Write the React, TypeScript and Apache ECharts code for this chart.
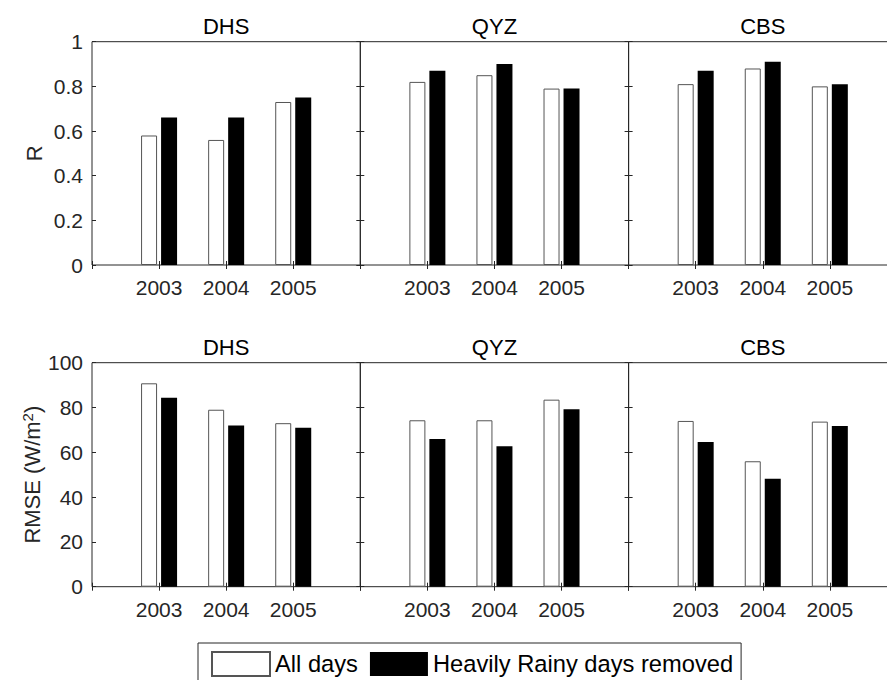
import React, { useEffect, useRef } from 'react';
import * as echarts from 'echarts';

const years = ['2003', '2004', '2005'];
const stations = ['DHS', 'QYZ', 'CBS'];
const seriesNames = ['All days', 'Heavily Rainy days removed'];

const rAllDHS = [0.58, 0.56, 0.73];
const rRemovedDHS = [0.66, 0.66, 0.75];
const rAllQYZ = [0.82, 0.85, 0.79];
const rRemovedQYZ = [0.87, 0.9, 0.79];
const rAllCBS = [0.81, 0.88, 0.8];
const rRemovedCBS = [0.87, 0.91, 0.81];

const rmseAllDHS = [90.8, 79, 73];
const rmseRemovedDHS = [84.4, 72, 71];
const rmseAllQYZ = [74.3, 74.3, 83.5];
const rmseRemovedQYZ = [65.9, 62.7, 79.2];
const rmseAllCBS = [74, 56, 73.7];
const rmseRemovedCBS = [64.6, 48.2, 71.7];

const FONT = '"Liberation Sans", Arial, Helvetica, sans-serif';
const TXT = '#262626';

export default function App() {
  const ref = useRef<HTMLDivElement>(null);

  useEffect(() => {
    if (!ref.current) return;
    const chart = echarts.init(ref.current, undefined, { renderer: 'svg' });

    const rows = [
      { all: [rAllDHS, rAllQYZ, rAllCBS], rem: [rRemovedDHS, rRemovedQYZ, rRemovedCBS], max: 1, interval: 0.2 },
      { all: [rmseAllDHS, rmseAllQYZ, rmseAllCBS], rem: [rmseRemovedDHS, rmseRemovedQYZ, rmseRemovedCBS], max: 100, interval: 20 },
    ];
    const L = [92, 360.3, 628.6];
    const W = 268.3;
    const T = [41.7, 362.7];
    const H = [223.3, 224];
    const titleY = [26.5, 347];

    const grids: any[] = [];
    const xAxes: any[] = [];
    const yAxes: any[] = [];
    const series: any[] = [];
    const graphics: any[] = [];
    const cats = ['', ...years, ''];

    rows.forEach((row, r) => {
      stations.forEach((st, c) => {
        const i = r * 3 + c;
        grids.push({
          left: L[c], top: T[r], width: W, height: H[r],
          show: true, borderColor: TXT, borderWidth: 1, backgroundColor: 'transparent',
        });
        const xBase = {
          type: 'category', gridIndex: i, data: cats, boundaryGap: false,
          axisLine: { show: false },
          axisTick: { show: true, inside: true, length: 4, interval: 0, lineStyle: { color: TXT } },
          splitLine: { show: false },
        };
        xAxes.push({
          ...xBase, position: 'bottom',
          axisLabel: { interval: 0, margin: 12, fontSize: 21, color: TXT, fontFamily: FONT },
        });
        xAxes.push({ ...xBase, position: 'top', axisLabel: { show: false } });
        const yBase = {
          type: 'value', gridIndex: i, min: 0, max: row.max, interval: row.interval,
          axisLine: { show: false },
          axisTick: { show: true, inside: true, length: 4, lineStyle: { color: TXT } },
          splitLine: { show: false },
        };
        yAxes.push({
          ...yBase, position: 'left',
          axisLabel: { show: c === 0, margin: 9, fontSize: 21, color: TXT, fontFamily: FONT },
        });
        yAxes.push({ ...yBase, position: 'right', axisLabel: { show: false } });

        series.push({
          type: 'bar', name: seriesNames[0], xAxisIndex: 2 * i, yAxisIndex: 2 * i,
          data: [null, ...row.all[c], null], barWidth: 16, barGap: '25%',
          itemStyle: { color: '#ffffff', borderColor: '#555555', borderWidth: 1 },
        });
        series.push({
          type: 'bar', name: seriesNames[1], xAxisIndex: 2 * i, yAxisIndex: 2 * i,
          data: [null, ...row.rem[c], null], barWidth: 16, barGap: '25%',
          itemStyle: { color: '#000000', borderColor: '#000000', borderWidth: 0 },
        });

        graphics.push({
          type: 'text', x: L[c] + W / 2, y: titleY[r],
          style: { text: st, align: 'center', verticalAlign: 'middle', fontSize: 22, fill: '#000', fontFamily: FONT },
        });
      });
    });

    graphics.push({
      type: 'text', x: 34, y: T[0] + H[0] / 2, rotation: Math.PI / 2,
      style: { text: 'R', align: 'center', verticalAlign: 'middle', fontSize: 22, fill: TXT, fontFamily: FONT },
    });
    graphics.push({
      type: 'text', x: 32, y: T[1] + H[1] / 2, rotation: Math.PI / 2,
      style: {
        text: 'RMSE (W/m{sup|2})', align: 'center', verticalAlign: 'middle', fontSize: 22, fill: TXT, fontFamily: FONT,
        rich: { sup: { fontSize: 15, fill: TXT, fontFamily: FONT, verticalAlign: 'top', padding: [0, 0, 9, 0] } },
      },
    });

    chart.setOption({
      animation: false,
      backgroundColor: '#ffffff',
      grid: grids,
      xAxis: xAxes,
      yAxis: yAxes,
      series,
      graphic: graphics,
      legend: {
        data: seriesNames,
        left: 198, top: 643,
        padding: [8, 8, 40, 13],
        borderColor: TXT, borderWidth: 1,
        itemWidth: 58, itemHeight: 24, itemGap: 12,
        icon: 'rect',
        textStyle: { fontSize: 23.7, color: '#000', fontFamily: FONT },
        selectedMode: false,
      },
    });
    return () => chart.dispose();
  }, []);

  return (
    <div style={{ position: 'fixed', left: 0, top: 0, width: 887, height: 680, overflow: 'hidden', background: '#fff' }}>
      <div ref={ref} style={{ width: 900, height: 680 }} />
    </div>
  );
}
